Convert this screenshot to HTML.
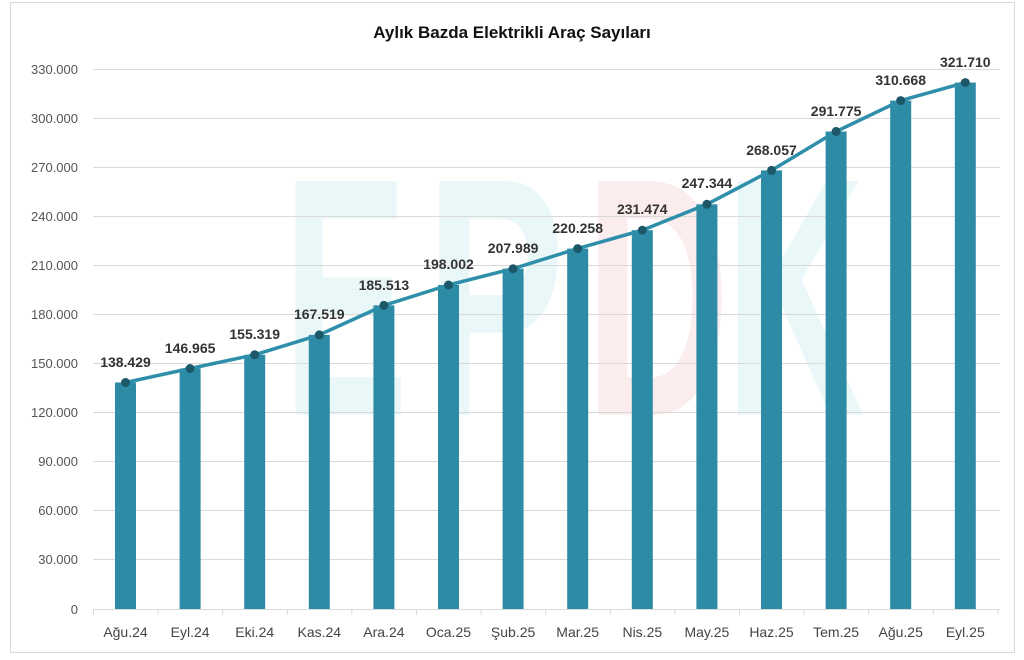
<!DOCTYPE html>
<html><head><meta charset="utf-8"><style>
body{margin:0;background:#fff;}
svg{display:block;font-family:"Liberation Sans",sans-serif;}
</style></head><body>
<svg width="1024" height="660" viewBox="0 0 1024 660">
<rect x="10.5" y="2.5" width="1004" height="650" fill="#fff" stroke="#d9d9d9"/>
<g opacity="0.1" font-weight="bold" font-size="340">
<text x="283" y="415" fill="#3fb6c4" textLength="125" lengthAdjust="spacingAndGlyphs">E</text>
<text x="425" y="415" fill="#3fb6c4" textLength="140" lengthAdjust="spacingAndGlyphs">P</text>
<text x="585" y="415" fill="#e0505a" textLength="145" lengthAdjust="spacingAndGlyphs">D</text>
<text x="725" y="415" fill="#3fb6c4" textLength="140" lengthAdjust="spacingAndGlyphs">K</text>
</g>
<text x="512" y="38" text-anchor="middle" font-size="17" font-weight="bold" fill="#111">Aylık Bazda Elektrikli Araç Sayıları</text>
<g stroke="#d9d9d9" stroke-width="1">
<line x1="93" x2="1000" y1="69.5" y2="69.5"/><line x1="93" x2="1000" y1="118.5" y2="118.5"/>
<line x1="93" x2="1000" y1="167.5" y2="167.5"/><line x1="93" x2="1000" y1="216.5" y2="216.5"/>
<line x1="93" x2="1000" y1="265.5" y2="265.5"/><line x1="93" x2="1000" y1="314.5" y2="314.5"/>
<line x1="93" x2="1000" y1="363.5" y2="363.5"/><line x1="93" x2="1000" y1="412.5" y2="412.5"/>
<line x1="93" x2="1000" y1="461.5" y2="461.5"/><line x1="93" x2="1000" y1="510.5" y2="510.5"/>
<line x1="93" x2="1000" y1="559.5" y2="559.5"/><line x1="93" x2="1000" y1="609.5" y2="609.5"/>
</g>
<g font-size="13" fill="#555" text-anchor="end">
<text x="78" y="74">330.000</text><text x="78" y="123">300.000</text><text x="78" y="172">270.000</text>
<text x="78" y="221">240.000</text><text x="78" y="270">210.000</text><text x="78" y="319">180.000</text>
<text x="78" y="368">150.000</text><text x="78" y="417">120.000</text><text x="78" y="466">90.000</text>
<text x="78" y="515">60.000</text><text x="78" y="564">30.000</text><text x="78" y="614">0</text>
</g>
<g fill="#2e8ba6">
<rect x="115" y="382.5" width="21" height="226.5"/><rect x="179.6" y="368.5" width="21" height="240.5"/>
<rect x="244.2" y="354.8" width="21" height="254.2"/><rect x="308.8" y="334.9" width="21" height="274.1"/>
<rect x="373.4" y="305.4" width="21" height="303.6"/><rect x="438" y="285" width="21" height="324"/>
<rect x="502.6" y="268.7" width="21" height="340.3"/><rect x="567.2" y="248.6" width="21" height="360.4"/>
<rect x="631.8" y="230.2" width="21" height="378.8"/><rect x="696.4" y="204.3" width="21" height="404.7"/>
<rect x="761" y="170.4" width="21" height="438.6"/><rect x="825.6" y="131.5" width="21" height="477.5"/>
<rect x="890.2" y="100.6" width="21" height="508.4"/><rect x="954.8" y="82.6" width="21" height="526.4"/>
</g>
<g stroke="#d9d9d9"><line x1="93" x2="1000" y1="609.5" y2="609.5"/>
<line x1="93.5" x2="93.5" y1="609" y2="615"/><line x1="158.1" x2="158.1" y1="609" y2="615"/><line x1="222.7" x2="222.7" y1="609" y2="615"/><line x1="287.3" x2="287.3" y1="609" y2="615"/><line x1="351.9" x2="351.9" y1="609" y2="615"/><line x1="416.5" x2="416.5" y1="609" y2="615"/><line x1="481.1" x2="481.1" y1="609" y2="615"/><line x1="545.7" x2="545.7" y1="609" y2="615"/><line x1="610.3" x2="610.3" y1="609" y2="615"/><line x1="674.9" x2="674.9" y1="609" y2="615"/><line x1="739.5" x2="739.5" y1="609" y2="615"/><line x1="804.1" x2="804.1" y1="609" y2="615"/><line x1="868.7" x2="868.7" y1="609" y2="615"/><line x1="933.3" x2="933.3" y1="609" y2="615"/><line x1="997.9" x2="997.9" y1="609" y2="615"/></g>
<polyline fill="none" stroke="#2f8fab" stroke-width="3.5" stroke-linejoin="round" points="125.5,382.5 190.1,368.5 254.7,354.8 319.3,334.9 383.9,305.4 448.5,285 513.1,268.7 577.7,248.6 642.3,230.2 706.9,204.3 771.5,170.4 836.1,131.5 900.7,100.6 965.3,82.6"/>
<g fill="#1d5868">
<circle cx="125.5" cy="382.5" r="4.5"/><circle cx="190.1" cy="368.5" r="4.5"/><circle cx="254.7" cy="354.8" r="4.5"/><circle cx="319.3" cy="334.9" r="4.5"/><circle cx="383.9" cy="305.4" r="4.5"/><circle cx="448.5" cy="285" r="4.5"/><circle cx="513.1" cy="268.7" r="4.5"/><circle cx="577.7" cy="248.6" r="4.5"/><circle cx="642.3" cy="230.2" r="4.5"/><circle cx="706.9" cy="204.3" r="4.5"/><circle cx="771.5" cy="170.4" r="4.5"/><circle cx="836.1" cy="131.5" r="4.5"/><circle cx="900.7" cy="100.6" r="4.5"/><circle cx="965.3" cy="82.6" r="4.5"/>
</g>
<g font-size="14" font-weight="bold" fill="#333" text-anchor="middle">
<text x="125.5" y="367">138.429</text><text x="190.1" y="353">146.965</text><text x="254.7" y="339">155.319</text>
<text x="319.3" y="319">167.519</text><text x="383.9" y="290">185.513</text><text x="448.5" y="269">198.002</text>
<text x="513.1" y="253">207.989</text><text x="577.7" y="233">220.258</text><text x="642.3" y="214">231.474</text>
<text x="706.9" y="188">247.344</text><text x="771.5" y="155">268.057</text><text x="836.1" y="116">291.775</text>
<text x="900.7" y="85">310.668</text><text x="965.3" y="67">321.710</text>
</g>
<g font-size="14" fill="#444" text-anchor="middle">
<text x="125.5" y="637">Ağu.24</text><text x="190.1" y="637">Eyl.24</text><text x="254.7" y="637">Eki.24</text>
<text x="319.3" y="637">Kas.24</text><text x="383.9" y="637">Ara.24</text><text x="448.5" y="637">Oca.25</text>
<text x="513.1" y="637">Şub.25</text><text x="577.7" y="637">Mar.25</text><text x="642.3" y="637">Nis.25</text>
<text x="706.9" y="637">May.25</text><text x="771.5" y="637">Haz.25</text><text x="836.1" y="637">Tem.25</text>
<text x="900.7" y="637">Ağu.25</text><text x="965.3" y="637">Eyl.25</text>
</g>
</svg>
</body></html>
